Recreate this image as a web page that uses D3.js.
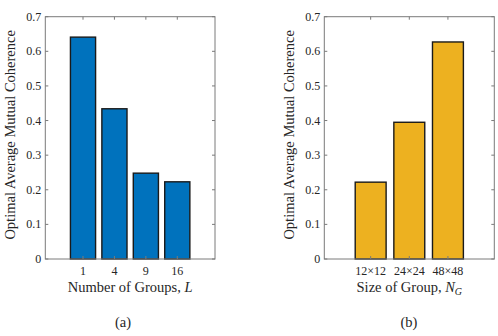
<!DOCTYPE html>
<html>
<head>
<meta charset="utf-8">
<script src="https://cdn.jsdelivr.net/npm/d3@7"></script>
<style>
  body { margin: 0; background: #fff; }
  svg text { font-family: "Liberation Serif", "DejaVu Serif", serif; fill: #262626; }
</style>
</head>
<body>
<script>
var w = 498;
var h = 336;

// panel (a)
var groupCats = ["1", "4", "9", "16"];
var groupVals = [0.641, 0.434, 0.248, 0.223];

// panel (b)
var sizeCats = ["12×12", "24×24", "48×48"];
var sizeVals = [0.222, 0.395, 0.627];

var yTicks = [0, 0.1, 0.2, 0.3, 0.4, 0.5, 0.6, 0.7];

var svg = d3.select("body")
    .append("svg")
    .attr("width", w)
    .attr("height", h)
    .attr("font-family", "Liberation Serif");

function panel(cats, vals, color, left, right, xlab, xlabSub, tag, tagX) {
  var top = 16.7, bottom = 259;

  var xScale = d3.scaleBand()
      .domain(cats)
      .range([left, right])
      .paddingInner(0.2)
      .paddingOuter(0.8);

  var yScale = d3.scaleLinear()
      .domain([0, 0.7])
      .range([bottom, top]);

  var g = svg.append("g");

  g.selectAll("rect.bar")
      .data(vals)
      .enter()
      .append("rect")
      .attr("class", "bar")
      .attr("x", function(d, i) { return xScale(cats[i]); })
      .attr("y", function(d) { return yScale(d); })
      .attr("width", xScale.bandwidth())
      .attr("height", function(d) { return yScale(0) - yScale(d); })
      .attr("fill", color)
      .attr("stroke", "#1a1a1a")
      .attr("stroke-width", 1.4);

  // box
  g.append("rect")
      .attr("x", left)
      .attr("y", top)
      .attr("width", right - left)
      .attr("height", bottom - top)
      .attr("fill", "none")
      .attr("stroke", "#7a7a7a")
      .attr("stroke-width", 1);

  // y ticks, both sides, pointing in
  yTicks.forEach(function(t) {
    var y = yScale(t);
    g.append("line").attr("x1", left).attr("x2", left + 3).attr("y1", y).attr("y2", y)
        .attr("stroke", "#7a7a7a");
    g.append("line").attr("x1", right).attr("x2", right - 3).attr("y1", y).attr("y2", y)
        .attr("stroke", "#7a7a7a");
    g.append("text")
        .attr("x", left - 4)
        .attr("y", y + 4)
        .attr("text-anchor", "end")
        .attr("font-size", 12)
        .text(t === 0 ? "0" : t.toFixed(1));
  });

  // x ticks, top and bottom
  cats.forEach(function(c) {
    var x = xScale(c) + xScale.bandwidth() / 2;
    g.append("line").attr("x1", x).attr("x2", x).attr("y1", bottom).attr("y2", bottom - 3)
        .attr("stroke", "#7a7a7a");
    g.append("line").attr("x1", x).attr("x2", x).attr("y1", top).attr("y2", top + 3)
        .attr("stroke", "#7a7a7a");
    g.append("text")
        .attr("x", x)
        .attr("y", 275)
        .attr("text-anchor", "middle")
        .attr("font-size", 12)
        .text(c);
  });

  var cx = (left + right) / 2;

  var xl = g.append("text")
      .attr("x", cx)
      .attr("y", 292)
      .attr("text-anchor", "middle")
      .attr("font-size", 14.5);
  xl.append("tspan").text(xlab);
  xl.append("tspan").attr("font-style", "italic").text(xlabSub[0]);
  if (xlabSub.length > 1) {
    xl.append("tspan").attr("font-style", "italic").attr("font-size", 10)
        .attr("dy", 3).text(xlabSub[1]);
  }

  g.append("text")
      .attr("transform", "translate(" + (left - 30) + "," + ((top + bottom) / 2 - 3) + ") rotate(-90)")
      .attr("text-anchor", "middle")
      .attr("font-size", 14.5)
      .text("Optimal Average Mutual Coherence");

  g.append("text")
      .attr("x", tagX)
      .attr("y", 327)
      .attr("text-anchor", "middle")
      .attr("font-size", 14.5)
      .text(tag);
}

panel(groupCats, groupVals, "#0072BD", 45.3, 215, "Number of Groups, ", ["L"], "(a)", 123);
panel(sizeCats, sizeVals, "#EDB120", 324.3, 494.3, "Size of Group, ", ["N", "G"], "(b)", 409);
</script>
</body>
</html>
